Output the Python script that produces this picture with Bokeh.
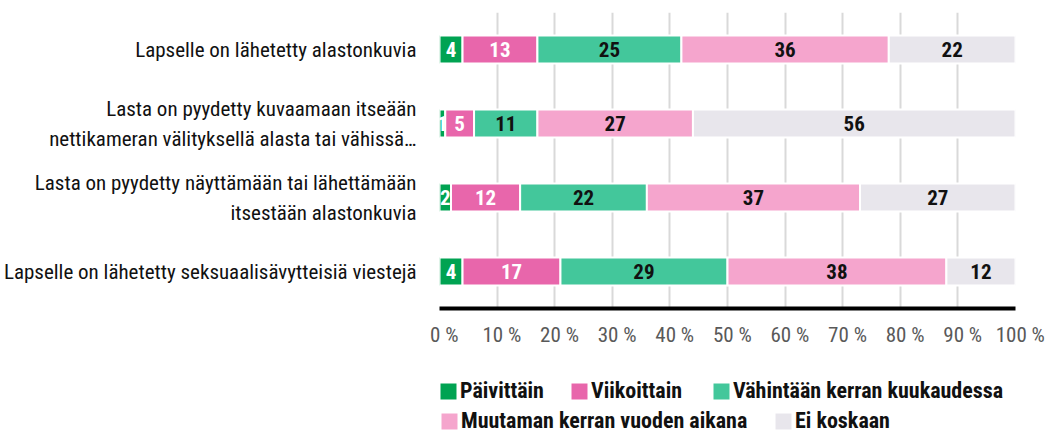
from bokeh.plotting import figure
from bokeh.layouts import column
from bokeh.models import ColumnDataSource, FactorRange, Range1d, Legend, LegendItem, FixedTicker
from bokeh.core.properties import value
from bokeh.embed import file_html
from bokeh.resources import INLINE

categories = [
    "Lapselle on lähetetty alastonkuvia",
    "Lasta on pyydetty kuvaamaan itseään\nnettikameran välityksellä alasta tai vähissä…",
    "Lasta on pyydetty näyttämään tai lähettämään\nitsestään alastonkuvia",
    "Lapselle on lähetetty seksuaalisävytteisiä viestejä",
]
series = ["Päivittäin", "Viikoittain", "Vähintään kerran kuukaudessa",
          "Muutaman kerran vuoden aikana", "Ei koskaan"]
paivittain = [4, 1, 2, 4]
viikoittain = [13, 5, 12, 17]
kuukausittain = [25, 11, 22, 29]
vuosittain = [36, 27, 37, 38]
ei_koskaan = [22, 56, 27, 12]
tick_values = [0, 10, 20, 30, 40, 50, 60, 70, 80, 90, 100]
tick_labels = ["0 %", "10 %", "20 %", "30 %", "40 %", "50 %", "60 %", "70 %", "80 %", "90 %", "100 %"]

colors = ["#00a352", "#e866ab", "#43c79b", "#f5a5cd", "#e8e6ec"]
label_colors = ["#ffffff", "#ffffff", "#111111", "#111111", "#111111"]
FONT = "Roboto Condensed"

values = [paivittain, viikoittain, kuukausittain, vuosittain, ei_koskaan]

p = figure(width=1049, height=358, output_backend="svg", toolbar_location=None,
           y_range=FactorRange(factors=list(reversed(categories))),
           x_range=Range1d(0, 100),
           min_border_left=436, min_border_right=34, min_border_top=12, min_border_bottom=50)
p.outline_line_color = None

left = [0, 0, 0, 0]
for name, vals, col, tcol in zip(series, values, colors, label_colors):
    right = [l + v for l, v in zip(left, vals)]
    mid = [(l + r) / 2 for l, r in zip(left, right)]
    src = ColumnDataSource(dict(y=categories, left=left, right=right, mid=mid,
                                lab=[str(v) for v in vals]))
    p.hbar(y="y", left="left", right="right", height=0.38, source=src,
           fill_color=col, line_color="white", line_width=2)
    p.text(x="mid", y="y", text="lab", source=src, text_align="center",
           text_baseline="middle", text_color=tcol, text_font=value(FONT),
           text_font_style="bold", text_font_size="21px")
    left = right

p.xaxis.ticker = FixedTicker(ticks=tick_values)
p.xaxis.major_label_overrides = {v: "\u00a0\u00a0" + l for v, l in zip(tick_values, tick_labels)}
p.xaxis.axis_line_color = "black"
p.xaxis.axis_line_width = 4
p.xaxis.major_tick_line_color = None
p.xaxis.minor_tick_line_color = None
p.xaxis.major_label_standoff = 8
p.xaxis.major_label_text_font = FONT
p.xaxis.major_label_text_font_size = "21px"
p.xaxis.major_label_text_color = "#595959"

p.yaxis.axis_line_color = None
p.yaxis.major_tick_line_color = None
p.yaxis.minor_tick_line_color = None
p.yaxis.major_label_standoff = 17
p.yaxis.major_label_text_font = FONT
p.yaxis.major_label_text_font_size = "21px"
p.yaxis.major_label_text_line_height = 1.25
p.yaxis.major_label_text_color = "#111111"

p.xgrid.ticker = FixedTicker(ticks=tick_values)
p.xgrid.grid_line_color = "#d9d9d9"
p.xgrid.grid_line_width = 2
p.ygrid.grid_line_color = None

# legend panel underneath the chart (its frame is aligned with the chart's frame)
lf = figure(width=1049, height=76, output_backend="svg", toolbar_location=None,
            x_range=Range1d(0, 1), y_range=Range1d(0, 1),
            min_border_left=0, min_border_right=0, min_border_top=0, min_border_bottom=0,
            x_axis_type=None, y_axis_type=None)
lf.outline_line_color = None
lf.xgrid.grid_line_color = None
lf.ygrid.grid_line_color = None

legend_pos = [(-1, 31), (130, 31), (272, 31), (0, 1), (334, 1)]
for name, col, pos in zip(series, colors, legend_pos):
    proxy_src = ColumnDataSource(dict(y=[-5.0], left=[0.0], right=[0.0]))
    proxy = lf.hbar(y="y", left="left", right="right", height=0.1, source=proxy_src,
                    fill_color=col, line_color=None)
    lg = Legend(items=[LegendItem(label=name, renderers=[proxy])],
                location=pos, orientation="horizontal", spacing=0,
                padding=0, margin=0, border_line_color=None,
                background_fill_alpha=0, glyph_width=20, glyph_height=20,
                label_standoff=2, label_text_font=FONT, label_text_font_style="bold",
                label_text_font_size="22px", label_text_color="#111111",
                label_height=20)
    lf.add_layout(lg, "center")

layout = column(p, lf, spacing=0)
open("out.html", "w").write(file_html(layout, INLINE))
